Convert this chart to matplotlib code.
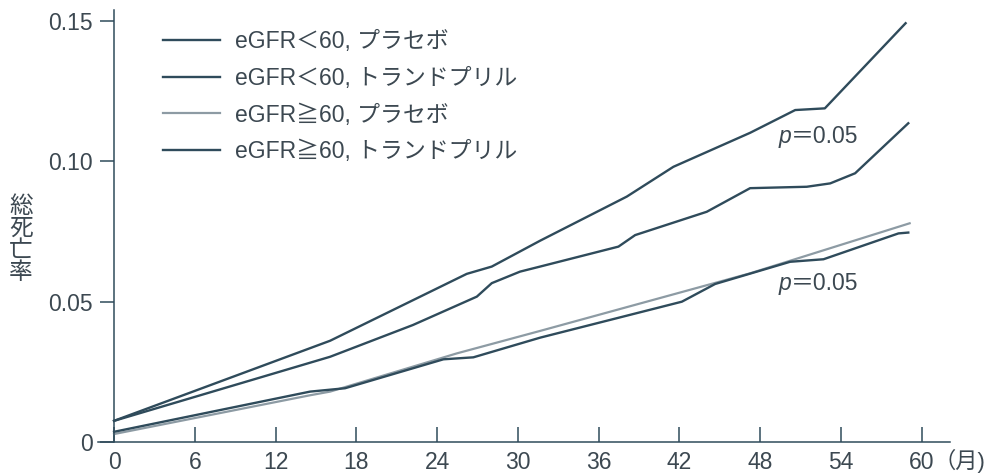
import matplotlib
matplotlib.use("Agg")
import matplotlib.pyplot as plt

plt.rcParams['font.family'] = ['Liberation Sans', 'Noto Sans CJK JP']

# 経過月数と総死亡率
months_lt60_pl = [0, 16.05, 26.2, 28.06, 31.65, 38.09, 41.55, 47.25, 50.6, 52.8, 58.8]
rate_lt60_pl = [0.0077, 0.0362, 0.0600, 0.0626, 0.0718, 0.0875, 0.0981, 0.1102, 0.1183, 0.1189, 0.1492]

months_lt60_tr = [0, 16.05, 22.2, 26.95, 28.06, 30.16, 31.65, 37.47, 38.71, 44.03, 47.25,
                  51.46, 53.2, 55.05, 59.0]
rate_lt60_tr = [0.0077, 0.0305, 0.0418, 0.0519, 0.0567, 0.0608, 0.0626, 0.0697, 0.0738, 0.0821,
                0.0905, 0.0910, 0.0922, 0.0958, 0.1136]

months_ge60_pl = [0, 14.56, 16.05, 25.46, 31.65, 47.25, 59.1]
rate_ge60_pl = [0.0030, 0.0168, 0.0181, 0.0317, 0.0397, 0.0602, 0.0780]

months_ge60_tr = [0, 14.56, 17.16, 24.47, 26.69, 31.65, 42.18, 44.65, 50.22, 52.7, 58.27, 59.0]
rate_ge60_tr = [0.0038, 0.0181, 0.0193, 0.0296, 0.0303, 0.0373, 0.0501, 0.0564, 0.0643, 0.0652,
                0.0744, 0.0747]

labels = ['eGFR＜60, プラセボ', 'eGFR＜60, トランドプリル',
          'eGFR≧60, プラセボ', 'eGFR≧60, トランドプリル']

xticks = list(range(0, 61, 6))
yticks = [0, 0.05, 0.10, 0.15]
ytick_labels = ['0', '0.05', '0.10', '0.15']

dark = '#2f4b5b'
grey = '#8d9ba4'
txt = '#3c4851'

fig = plt.figure(figsize=(9.89, 4.74), dpi=100)
ax = fig.add_axes([0.0991, 0.0665, 0.8615, 0.9124])

ax.plot(months_lt60_pl, rate_lt60_pl, color=dark, lw=1.7, label=labels[0])
ax.plot(months_lt60_tr, rate_lt60_tr, color=dark, lw=1.7, label=labels[1])
ax.plot(months_ge60_pl, rate_ge60_pl, color=grey, lw=1.6, label=labels[2])
ax.plot(months_ge60_tr, rate_ge60_tr, color=dark, lw=1.7, label=labels[3])

ax.set_xlim(-1.19, 62.1)
ax.set_ylim(0, 0.1539)

for s in ['top', 'right']:
    ax.spines[s].set_visible(False)
ax.spines['left'].set_position(('data', 0))
for s in ['left', 'bottom']:
    ax.spines[s].set_color(dark)
    ax.spines[s].set_linewidth(1.1)

ax.set_xticks(xticks)
ax.set_yticks(yticks)
ax.set_yticklabels(ytick_labels)
ax.tick_params(axis='x', direction='in', length=10.8, width=1.1, color=dark,
               labelsize=16.5, labelcolor=txt, pad=6)
ax.tick_params(axis='y', direction='out', length=10, width=1.1, color=dark,
               labelsize=16.5, labelcolor=txt, pad=5.5)

# 単位
ax.text(60.85, -0.0066, '（月)', fontsize=16, color=txt, ha='left', va='center',
        clip_on=False)

fig.text(0.0212, 0.494, '総\n死\n亡\n率', fontsize=17, color=txt, ha='center',
         va='center', linespacing=1.0)

# p値
for py in [0.1088, 0.0567]:
    ax.text(49.33, py, 'p', fontsize=16.5, color=txt, style='italic',
            family='Liberation Sans', ha='left', va='center')
    ax.text(50.3, py, '＝0.05', fontsize=16.5, color=txt, ha='left', va='center')

leg = ax.legend(loc='upper left', bbox_to_anchor=(0.1648, 0.9367),
                bbox_transform=fig.transFigure, frameon=False, fontsize=16.5,
                handlelength=2.48, handletextpad=0.65, labelspacing=0.6,
                borderpad=0, borderaxespad=0)
for t in leg.get_texts():
    t.set_color(txt)

fig.savefig('out.png', dpi=100)
